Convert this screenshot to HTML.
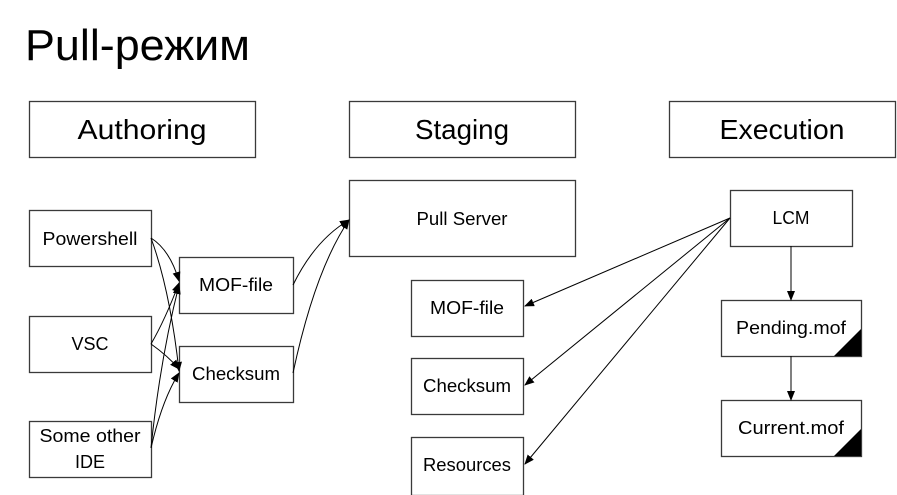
<!DOCTYPE html>
<html><head><meta charset="utf-8"><style>
html,body{margin:0;padding:0;background:#fff;}
svg{display:block;}
text{font-family:"Liberation Sans",sans-serif;fill:#000;}
</style></head><body>
<svg width="897" height="495" viewBox="0 0 897 495" xmlns="http://www.w3.org/2000/svg">
<defs>
<marker id="a" markerWidth="10" markerHeight="8" refX="9" refY="4" orient="auto" markerUnits="userSpaceOnUse">
<path d="M0,0 L10,4 L0,8 z" fill="#000"/></marker>
</defs>
<text x="25" y="60" font-size="44" textLength="225" lengthAdjust="spacingAndGlyphs">Pull-режим</text>
<g fill="#fff" stroke="#3a3a3a" stroke-width="1.3">
<rect x="29.5" y="101.5" width="226" height="56"/>
<rect x="349.5" y="101.5" width="226" height="56"/>
<rect x="669.5" y="101.5" width="226" height="56"/>
<rect x="29.5" y="210.5" width="122" height="56"/>
<rect x="29.5" y="316.5" width="122" height="56"/>
<rect x="29.5" y="421.5" width="122" height="56"/>
<rect x="179.5" y="257.5" width="114" height="56"/>
<rect x="179.5" y="346.5" width="114" height="56"/>
<rect x="349.5" y="180.5" width="226" height="76"/>
<rect x="411.5" y="280.5" width="112" height="56"/>
<rect x="411.5" y="358.5" width="112" height="56"/>
<rect x="411.5" y="437.5" width="112" height="58"/>
<rect x="730.5" y="190.5" width="122" height="56"/>
<rect x="721.5" y="300.5" width="140" height="56"/>
<rect x="721.5" y="400.5" width="140" height="56"/>
</g>
<path d="M861,329 L861,356 L834,356 z" fill="#000"/>
<path d="M861,429 L861,456 L834,456 z" fill="#000"/>
<g font-size="28" text-anchor="middle">
<text x="142" y="139" textLength="129" lengthAdjust="spacingAndGlyphs">Authoring</text>
<text x="462" y="139" textLength="94" lengthAdjust="spacingAndGlyphs">Staging</text>
<text x="782" y="139" textLength="125" lengthAdjust="spacingAndGlyphs">Execution</text>
</g>
<g font-size="18" text-anchor="middle">
<text x="90" y="245" textLength="95" lengthAdjust="spacingAndGlyphs">Powershell</text>
<text x="90" y="350">VSC</text>
<text x="90" y="442" textLength="101" lengthAdjust="spacingAndGlyphs">Some other</text>
<text x="90" y="468">IDE</text>
<text x="236" y="291" textLength="74" lengthAdjust="spacingAndGlyphs">MOF-file</text>
<text x="236" y="380" textLength="88" lengthAdjust="spacingAndGlyphs">Checksum</text>
<text x="462" y="225" textLength="91" lengthAdjust="spacingAndGlyphs">Pull Server</text>
<text x="467" y="314" textLength="74" lengthAdjust="spacingAndGlyphs">MOF-file</text>
<text x="467" y="392" textLength="88" lengthAdjust="spacingAndGlyphs">Checksum</text>
<text x="467" y="471" textLength="88" lengthAdjust="spacingAndGlyphs">Resources</text>
<text x="791" y="224" textLength="37" lengthAdjust="spacingAndGlyphs">LCM</text>
<text x="791" y="334" textLength="110" lengthAdjust="spacingAndGlyphs">Pending.mof</text>
<text x="791" y="434" textLength="106" lengthAdjust="spacingAndGlyphs">Current.mof</text>
</g>
<g fill="none" stroke="#000" stroke-width="1" marker-end="url(#a)">
<path d="M151,238 Q170,250 179,281"/>
<path d="M151,238 Q170,290 179,371"/>
<path d="M151,344 Q165,320 179,283"/>
<path d="M151,344 Q168,356 179,369"/>
<path d="M151,448 Q160,360 179,285"/>
<path d="M151,448 Q162,400 179,373"/>
<path d="M293,285 Q315,240 349,220"/>
<path d="M293,373 Q315,270 349,220"/>
<path d="M730,218 L525,306"/>
<path d="M730,218 L525,385"/>
<path d="M730,218 L525,464"/>
<path d="M791,246 L791,300"/>
<path d="M791,356 L791,400"/>
</g>
</svg>
</body></html>
